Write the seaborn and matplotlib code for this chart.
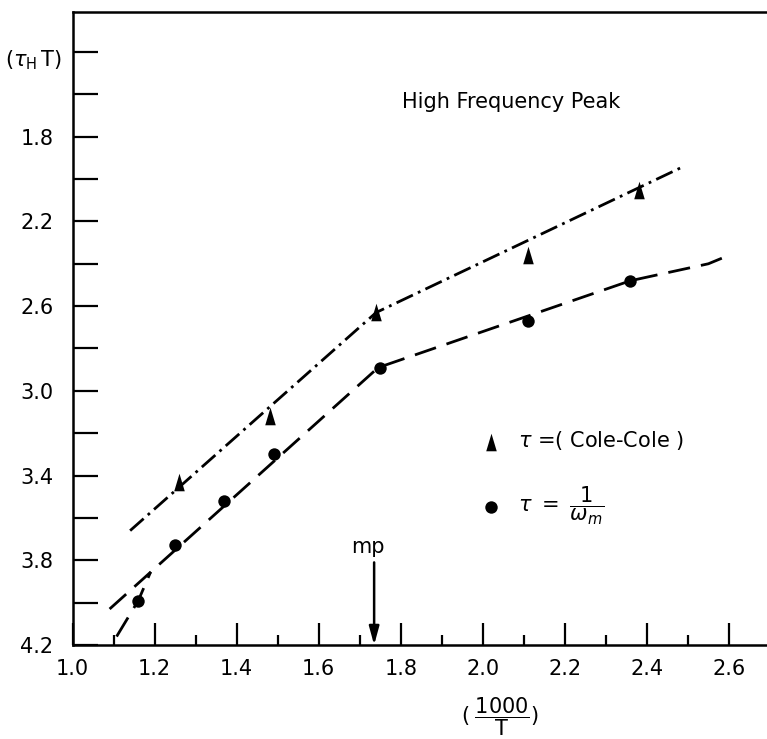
import numpy as np
import pandas as pd
import matplotlib
matplotlib.use("Agg")
import matplotlib.pyplot as plt
import seaborn as sns
from matplotlib.ticker import FixedLocator, FixedFormatter

# ---- data ----
tri_x = [1.26, 1.48, 1.74, 2.11, 2.38]
tri_y = [3.43, 3.12, 2.63, 2.36, 2.05]
cir_x = [1.16, 1.25, 1.37, 1.49, 1.75, 2.11, 2.36]
cir_y = [3.99, 3.73, 3.52, 3.30, 2.89, 2.67, 2.48]

# hand-drawn fit lines
tri_line_x = [1.14, 1.74, 2.49]
tri_line_y = [3.66, 2.63, 1.94]
cir_line_x = [1.09, 1.745, 2.36, 2.55, 2.60]
cir_line_y = [4.03, 2.89, 2.48, 2.40, 2.36]
branch_x = [1.107, 1.16, 1.19]
branch_y = [4.16, 3.99, 3.855]

x_major = [1.0, 1.2, 1.4, 1.6, 1.8, 2.0, 2.2, 2.4, 2.6]
x_labels = ["1.0", "1.2", "1.4", "1.6", "1.8", "2.0", "2.2", "2.4", "2.6"]
x_minor = [1.1, 1.3, 1.5, 1.7, 1.9, 2.1, 2.3, 2.5]
y_ticks = [1.4, 1.6, 1.8, 2.0, 2.2, 2.4, 2.6, 2.8, 3.0, 3.2, 3.4, 3.6, 3.8, 4.0, 4.2]
y_labels = ["", "", "1.8", "", "2.2", "", "2.6", "", "3.0", "", "3.4", "", "3.8", "", "4.2"]

mp_x = 1.735

sns.set_theme(style="white")
plt.rcParams["font.family"] = ["DejaVu Sans"]
plt.rcParams["mathtext.fontset"] = "dejavusans"
plt.rcParams["lines.scale_dashes"] = False
plt.rcParams["text.color"] = "black"
plt.rcParams["axes.labelcolor"] = "black"

fig = plt.figure(figsize=(7.67, 7.39), dpi=100)
ax = fig.add_axes([0.0948, 0.1272, 1.0 - 0.0948, 0.9838 - 0.1272])

tri_df = pd.DataFrame({"x": tri_x, "y": tri_y})
cir_df = pd.DataFrame({"x": cir_x, "y": cir_y})

lw = 2.0
sns.lineplot(x=tri_line_x, y=tri_line_y, sort=False, estimator=None, color="black",
             lw=lw, linestyle=(0, (13, 4, 2, 4)), ax=ax)
sns.lineplot(x=cir_line_x, y=cir_line_y, sort=False, estimator=None, color="black",
             lw=lw, linestyle=(0, (16, 8)), ax=ax)
sns.lineplot(x=branch_x, y=branch_y, sort=False, estimator=None, color="black",
             lw=lw, linestyle=(0, (16, 8)), ax=ax)

tri_marker = [(0, 1.0), (-0.6, -1.0), (0.6, -1.0), (0, 1.0)]
sns.scatterplot(data=tri_df, x="x", y="y", marker=tri_marker, s=160, color="black",
                edgecolor="black", linewidth=0, label=r"$\tau$ =( Cole-Cole )", ax=ax, zorder=5)
sns.scatterplot(data=cir_df, x="x", y="y", marker="o", s=80, color="black",
                edgecolor="black", linewidth=0, label=r"$\tau\ =\ \dfrac{1}{\omega_m}$", ax=ax, zorder=5)

ax.set_xlim(1.0, 2.693)
ax.set_ylim(4.2, 1.211)

ax.xaxis.set_major_locator(FixedLocator(x_major))
ax.xaxis.set_major_formatter(FixedFormatter(x_labels))
ax.xaxis.set_minor_locator(FixedLocator(x_minor))
ax.yaxis.set_major_locator(FixedLocator(y_ticks))
ax.yaxis.set_major_formatter(FixedFormatter(y_labels))

ax.tick_params(axis="x", which="major", direction="in", length=16, width=1.6,
               labelsize=15, pad=10, bottom=True, top=False, colors="black")
ax.tick_params(axis="x", which="minor", direction="in", length=7, width=1.6,
               bottom=True, top=False, colors="black")
ax.tick_params(axis="y", which="major", direction="in", length=18, width=1.6,
               labelsize=15, pad=14, left=True, right=False, colors="black")

for s in ["left", "bottom", "top"]:
    ax.spines[s].set_visible(True)
    ax.spines[s].set_linewidth(1.8)
    ax.spines[s].set_color("black")
ax.spines["right"].set_visible(False)

ax.set_xlabel(r"$(\;\dfrac{1000}{\mathrm{T}})$", fontsize=15)
ax.xaxis.set_label_coords(0.615, -0.08)
ax.xaxis.label.set_va("top")
ax.set_ylabel(r"$(\tau_{\mathrm{H}}\,\mathrm{T})$", fontsize=15, rotation=0)
ax.yaxis.set_label_coords(-0.057, 0.905)

ax.text(1.802, 1.635, "High Frequency Peak", fontsize=15, ha="left", va="center")

ax.text(1.72, 3.736, "mp", fontsize=15, ha="center", va="center")
ax.annotate("", xy=(mp_x, 4.2), xytext=(mp_x, 3.81),
            arrowprops=dict(arrowstyle="-|>,head_length=1.1,head_width=0.3",
                            color="black", lw=1.8, shrinkA=0, shrinkB=0,
                            mutation_scale=10))

leg = ax.legend(loc="upper left", bbox_to_anchor=(0.573, 0.357), frameon=False,
                fontsize=15, handlelength=1.0, handletextpad=0.8, labelspacing=1.55,
                borderpad=0)

fig.savefig("out.png", dpi=100, facecolor="white")
